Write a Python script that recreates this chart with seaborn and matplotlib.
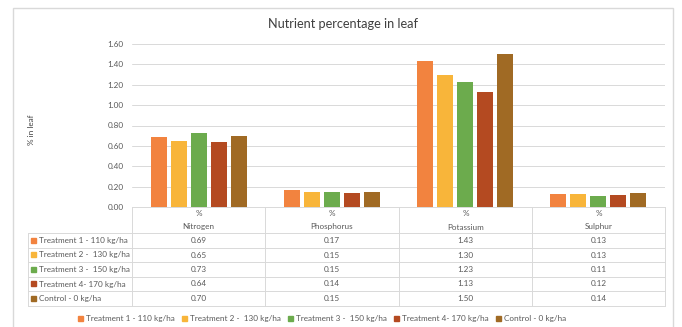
import matplotlib
matplotlib.use("Agg")
import matplotlib.pyplot as plt
import matplotlib.patches as mpatches
from matplotlib.lines import Line2D
import seaborn as sns
import pandas as pd

# Leaf nutrient content (%) by fertiliser treatment
nutrients = ["Nitrogen", "Phosphorus", "Potassium", "Sulphur"]
treatments = [
    "Treatment 1 - 110 kg/ha",
    "Treatment 2 -  130 kg/ha",
    "Treatment 3 -  150 kg/ha",
    "Treatment 4- 170 kg/ha",
    "Control - 0 kg/ha",
]
treatment_1 = [0.69, 0.17, 1.43, 0.13]
treatment_2 = [0.65, 0.15, 1.30, 0.13]
treatment_3 = [0.73, 0.15, 1.23, 0.11]
treatment_4 = [0.64, 0.14, 1.13, 0.12]
control = [0.70, 0.15, 1.50, 0.14]
series = [treatment_1, treatment_2, treatment_3, treatment_4, control]
colors = ["#F2833F", "#F8B53A", "#6CAB4D", "#B44A21", "#A06A24"]
y_ticks = [0.0, 0.2, 0.4, 0.6, 0.8, 1.0, 1.2, 1.4, 1.6]

rows = []
for t, vals in zip(treatments, series):
    for n, v in zip(nutrients, vals):
        rows.append({"Nutrient": n, "Treatment": t, "Value": v})
df = pd.DataFrame(rows)

sns.set_theme(style="white")
plt.rcParams["font.family"] = ["Lato", "DejaVu Sans"]

W, H = 682, 327
fig = plt.figure(figsize=(W / 100, H / 100), dpi=100)


def fx(px):
    return px / W


def fy(py):
    return 1 - py / H


FS = 5.9
ax_left, ax_right, ax_top, ax_bot = 132, 665, 44, 207
ax = fig.add_axes([fx(ax_left), fy(ax_bot), fx(ax_right - ax_left), (ax_bot - ax_top) / H])

sns.barplot(data=df, x="Nutrient", y="Value", hue="Treatment", order=nutrients,
            hue_order=treatments, palette=colors, saturation=1, width=0.75, gap=0.2,
            edgecolor="none", legend=False, ax=ax)

ax.set_ylim(0, 1.6)
ax.set_xlim(-0.5, len(nutrients) - 0.5)
ax.set_yticks(y_ticks)
ax.set_yticklabels([f"{v:.2f}" for v in y_ticks], fontsize=FS, color="#595959")
ax.tick_params(axis="y", length=0, pad=6)
ax.set_xticks([])
ax.set_xlabel("")
ax.set_ylabel("")
ax.yaxis.grid(True, color="#D9D9D9", linewidth=0.7)
ax.set_axisbelow(True)
for s in ["left", "right", "top"]:
    ax.spines[s].set_visible(False)
ax.spines["bottom"].set_color("#D9D9D9")
ax.spines["bottom"].set_linewidth(0.7)

# Outer chart border
fig.add_artist(mpatches.Rectangle((fx(13), fy(340)), fx(673 - 13), (340 - 8) / H,
                                  transform=fig.transFigure, fill=False,
                                  edgecolor="#D9D9D9", linewidth=1.0))

fig.text(fx(343), fy(24), "Nutrient percentage in leaf", ha="center", va="center",
         fontsize=9.2, color="#404040")
fig.text(fx(31), fy(130), "% in leaf", ha="center", va="center", rotation=90,
         fontsize=FS, color="#404040")

# Data table under the axis
grid_c = "#D9D9D9"
text_c = "#595959"
col_edges = [132, 265, 399, 532, 665]
label_left = 28
row_lines = [233, 248, 262, 277, 291, 306]


def hline(x0, x1, y):
    fig.add_artist(Line2D([fx(x0), fx(x1)], [fy(y), fy(y)], transform=fig.transFigure,
                          color=grid_c, linewidth=0.7))


def vline(x, y0, y1):
    fig.add_artist(Line2D([fx(x), fx(x)], [fy(y0), fy(y1)], transform=fig.transFigure,
                          color=grid_c, linewidth=0.7))


for y in row_lines:
    hline(label_left, col_edges[-1], y)
for x in col_edges:
    vline(x, ax_bot, row_lines[-1])
vline(label_left, row_lines[0], row_lines[-1])

for i, n in enumerate(nutrients):
    cx = (col_edges[i] + col_edges[i + 1]) / 2
    fig.text(fx(cx), fy(214), "%", ha="center", va="center", fontsize=FS, color=text_c)
    fig.text(fx(cx), fy(227), n, ha="center", va="center", fontsize=FS, color=text_c)

for r, (t, vals, c) in enumerate(zip(treatments, series, colors)):
    cy = (row_lines[r] + row_lines[r + 1]) / 2
    fig.add_artist(mpatches.Rectangle((fx(31), fy(cy + 2.2)), fx(5), 5 / H,
                                      transform=fig.transFigure, color=c))
    fig.text(fx(39), fy(cy), t, ha="left", va="center", fontsize=FS, color=text_c)
    for i, v in enumerate(vals):
        cx = (col_edges[i] + col_edges[i + 1]) / 2
        fig.text(fx(cx), fy(cy), f"{v:.2f}", ha="center", va="center",
                 fontsize=FS, color=text_c)

# Legend along the bottom
handles = [mpatches.Patch(color=c, label=t) for t, c in zip(treatments, colors)]
fig.legend(handles=handles, loc="center", bbox_to_anchor=(fx(322), fy(319)), ncol=5,
           frameon=False, fontsize=FS, handlelength=0.65, handleheight=0.65,
           handletextpad=0.3, columnspacing=0.9, labelcolor=text_c)

fig.savefig("out.png", dpi=100)
